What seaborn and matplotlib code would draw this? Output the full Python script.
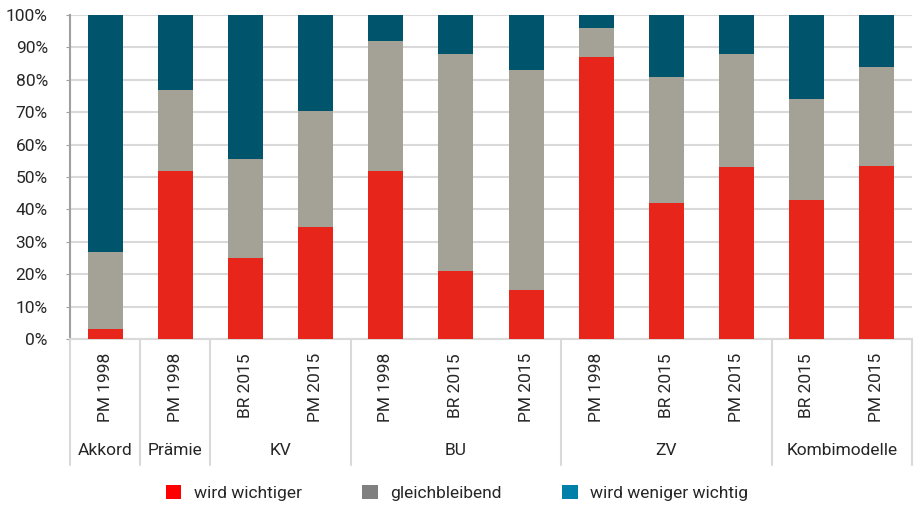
import pandas as pd
import matplotlib
matplotlib.use('Agg')
import matplotlib.pyplot as plt
import matplotlib.transforms as mtransforms
from matplotlib.patches import Patch
import seaborn as sns

# Data (shares in %)
bar_labels = ['PM 1998', 'PM 1998', 'BR 2015', 'PM 2015', 'PM 1998', 'BR 2015',
              'PM 2015', 'PM 1998', 'BR 2015', 'PM 2015', 'BR 2015', 'PM 2015']
groups = ['Akkord', 'Prämie', 'KV', 'BU', 'ZV', 'Kombimodelle']
group_sizes = [1, 1, 2, 3, 3, 2]
wichtiger = [3, 52, 25, 34.5, 52, 21, 15, 87, 42, 53, 43, 53.5]
gleich = [24, 25, 30.5, 35.8, 40, 67, 68, 9, 39, 35, 31, 30.5]
weniger = [100 - a - b for a, b in zip(wichtiger, gleich)]
series_names = ['wird wichtiger', 'gleichbleibend', 'wird weniger wichtig']

bar_colors = ['#E8251A', '#A4A196', '#00546C']
legend_colors = ['#FF0000', '#808080', '#0080A8']

df = pd.DataFrame({
    'pos': [str(i) for i in range(len(bar_labels))],
    'wichtiger': wichtiger,
    'gleich': gleich,
    'weniger': weniger,
})
df['cum2'] = df['wichtiger'] + df['gleich']
df['cum3'] = df['cum2'] + df['weniger']

sns.set_style('white')
plt.rcParams['font.family'] = ['Roboto', 'DejaVu Sans']
fs = 12.5

fig = plt.figure(figsize=(9.14, 5.08), dpi=100)
ax = fig.add_axes([0.0766, 0.3327, 0.9212, 0.6378])

# stacked bars: draw cumulative totals from back to front
for col, color in zip(['cum3', 'cum2', 'wichtiger'], bar_colors[::-1]):
    sns.barplot(data=df, x='pos', y=col, color=color, width=0.5,
                saturation=1, linewidth=0, ax=ax, zorder=3)

ax.set_ylim(0, 100)
ax.set_xlim(-0.5, len(bar_labels) - 0.5)
ax.set_yticks(range(0, 101, 10))
ax.set_yticklabels([f'{v}%' for v in range(0, 101, 10)], fontsize=fs)
ax.yaxis.grid(True, color='#D9D9D9', linewidth=1.5, zorder=0)
ax.set_axisbelow(True)
ax.set_xticks(range(len(bar_labels)))
ax.set_xticklabels(bar_labels, rotation=90, fontsize=fs, va='top')
ax.tick_params(axis='x', length=0, pad=10)
ax.tick_params(axis='y', length=3, color='#A0A0A0', pad=13, left=True)
ax.set_xlabel('')
ax.set_ylabel('')
for s in ['top', 'right']:
    ax.spines[s].set_visible(False)
ax.spines['left'].set_color('#A0A0A0')
ax.spines['left'].set_linewidth(1.5)
ax.spines['bottom'].set_color('#D9D9D9')
ax.spines['bottom'].set_linewidth(1.5)

# group separators and group labels under the axis
trans = mtransforms.blended_transform_factory(ax.transData, ax.transAxes)
start = -0.5
edges = [start]
for g, n in zip(groups, group_sizes):
    ax.text(start + n / 2, -0.345, g, transform=trans, ha='center', va='center',
            fontsize=fs)
    start += n
    edges.append(start)
for e in edges:
    ax.plot([e, e], [0, -0.39], transform=trans, color='#D9D9D9',
            linewidth=1.5, clip_on=False)

handles = [Patch(facecolor=c, edgecolor='none') for c in legend_colors]
fig.legend(handles, series_names, loc='center', bbox_to_anchor=(0.5, 0.03),
           ncol=3, frameon=False, fontsize=fs, handlelength=0.9, handleheight=0.9,
           columnspacing=3.5, handletextpad=0.7)

fig.savefig('out.png', dpi=100)
